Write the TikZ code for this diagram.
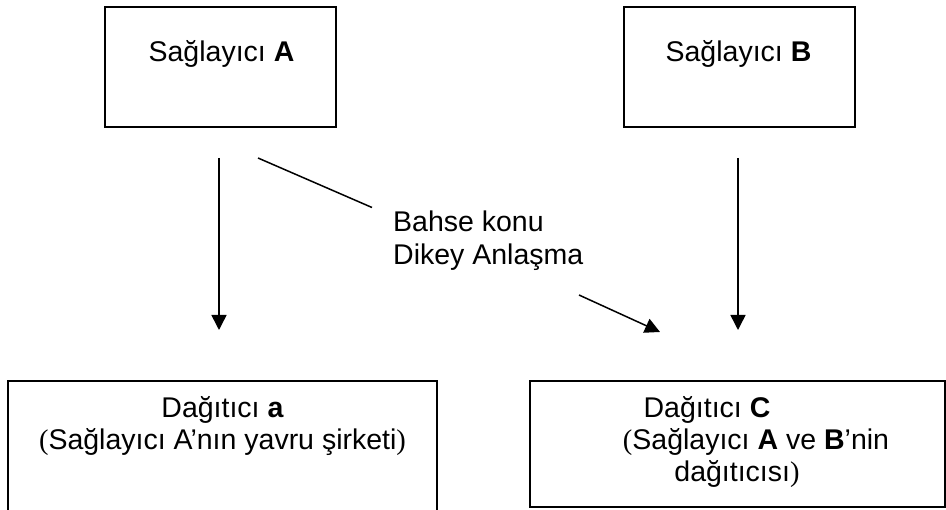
\documentclass[tikz,border=0pt]{standalone}
\usepackage{fontspec}
\setmainfont{Liberation Sans}
\newfontfamily\parenfont{Liberation Serif}
\usetikzlibrary{arrows.meta}
\newcommand{\lp}{{\parenfont(}}
\newcommand{\rp}{{\parenfont)}}
\tikzset{
  box/.style={draw, line width=1.5pt, inner sep=0pt},
  txt/.style={anchor=base, inner sep=0pt, font=\fontsize{28.5}{32}\selectfont},
  ltxt/.style={anchor=base west, inner sep=0pt, font=\fontsize{28.5}{32}\selectfont},
  arr/.style={line width=1.5pt, -{Triangle[width=15pt,length=15pt]}},
  seg/.style={line width=1.5pt},
}
\begin{document}
\begin{tikzpicture}[x=1pt,y=-1pt]
\useasboundingbox (0,0) rectangle (946,510);
% boxes
\node[box, minimum width=231pt, minimum height=120pt] (A) at (220.5,67) {};
\node[box, minimum width=231pt, minimum height=120pt] (B) at (739.5,67) {};
\node[box, minimum width=429pt, minimum height=139pt] (a) at (222.5,450.5) {};
\node[box, minimum width=415pt, minimum height=126pt] (C) at (737.5,444) {};
% texts
\node[txt] (tA) at (221.5,62) {Sağlayıcı \textbf{A}};
\node[txt] (tB) at (738.5,62) {Sağlayıcı \textbf{B}};
\node[txt] (ta1) at (222.5,418) {Dağıtıcı \textbf{a}};
\node[txt] (ta2) at (222.5,450) {\lp Sağlayıcı A’nın yavru şirketi\rp};
\node[txt] (tC1) at (707,418) {Dağıtıcı \textbf{C}};
\node[txt] (tC2) at (756,450) {\lp Sağlayıcı \textbf{A} ve \textbf{B}’nin};
\node[txt] (tC3) at (737,482) {dağıtıcısı\rp};
\node[ltxt] (m1) at (393,232) {Bahse konu};
\node[ltxt] (m2) at (393,265) {Dikey Anlaşma};
% connector points
\coordinate (A1) at (219,158);
\coordinate (a1) at (219,330);
\coordinate (B1) at (738,158);
\coordinate (C1) at (738,330);
\coordinate (d1) at (258,158);
\coordinate (d2) at (372,207.5);
\coordinate (d3) at (579,295);
\coordinate (d4) at (660,332);
% connectors
\draw[arr] (A1) -- (a1);
\draw[arr] (B1) -- (C1);
\draw[seg] (d1) -- (d2);
\draw[arr] (d3) -- (d4);
\end{tikzpicture}
\end{document}
